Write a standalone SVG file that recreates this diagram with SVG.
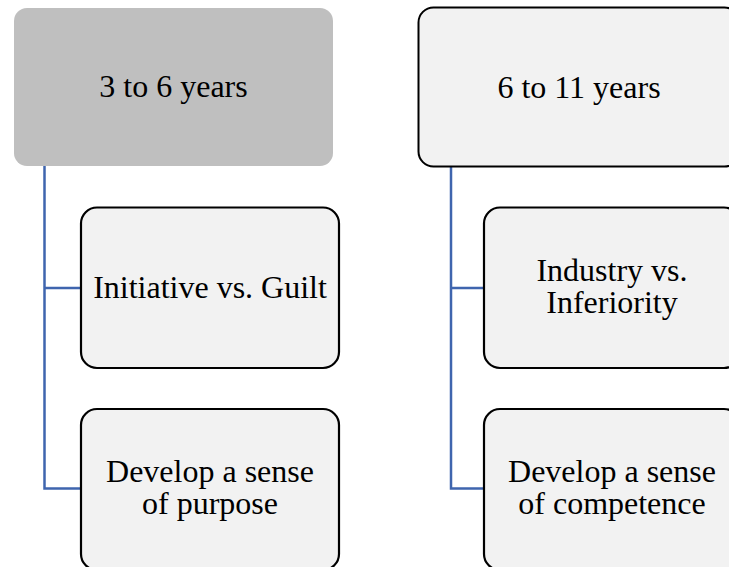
<svg xmlns="http://www.w3.org/2000/svg" width="729" height="567" viewBox="0 0 729 567">
<style>
.txt{font-family:"Liberation Serif","Times New Roman",serif;font-size:32px;fill:#000;text-anchor:middle}
.child{fill:#f2f2f2;stroke:#000;stroke-width:2.2}
.conn{fill:none;stroke:#3f65ae;stroke-width:2.5}
</style>
<rect width="729" height="567" fill="#fff"/>
<g id="connectors">
<path class="conn" d="M44.5 166 V488.5 H81 M44.5 288 H81"/>
<path class="conn" d="M451 167 V488.5 H484 M451 288 H484"/>
</g>
<g id="top-left">
<rect x="14" y="8" width="319" height="158" rx="13" fill="#bfbfbf"/>
<text class="txt" x="173.5" y="97">3 to 6 years</text>
</g>
<g id="top-right">
<rect x="418.5" y="7.5" width="321" height="159" rx="15" fill="#f2f2f2" stroke="#000" stroke-width="2"/>
<text class="txt" x="579" y="98">6 to 11 years</text>
</g>
<g id="left-child-1">
<rect class="child" x="81" y="207.5" width="258" height="160.5" rx="16"/>
<text class="txt" x="210" y="298">Initiative vs. Guilt</text>
</g>
<g id="left-child-2">
<rect class="child" x="81" y="409" width="258" height="161" rx="16"/>
<text class="txt" x="210" y="482">Develop a sense<tspan x="210" dy="32">of purpose</tspan></text>
</g>
<g id="right-child-1">
<rect class="child" x="484" y="207.5" width="256" height="160.5" rx="16"/>
<text class="txt" x="612" y="281">Industry vs.<tspan x="612" dy="32">Inferiority</tspan></text>
</g>
<g id="right-child-2">
<rect class="child" x="484" y="409" width="256" height="161" rx="16"/>
<text class="txt" x="612" y="482">Develop a sense<tspan x="612" dy="32">of competence</tspan></text>
</g>
</svg>
